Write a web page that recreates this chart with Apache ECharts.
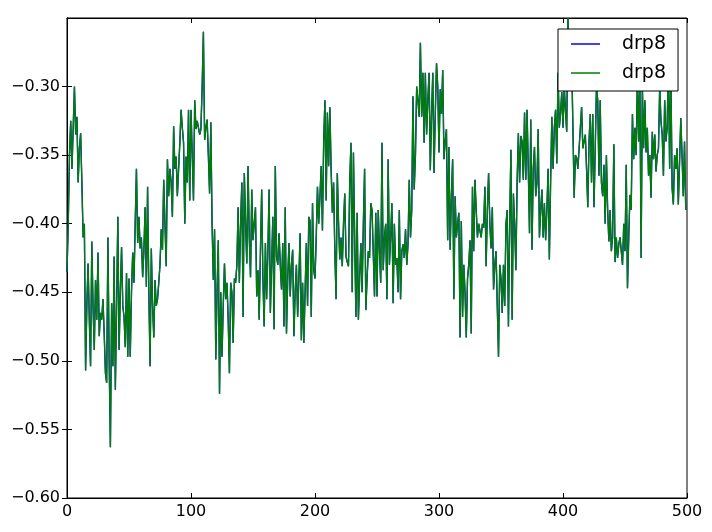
<!DOCTYPE html>
<html>
<head>
<meta charset="utf-8">
<script src="https://cdn.jsdelivr.net/npm/echarts@6/dist/echarts.min.js"></script>
<style>
html,body{margin:0;padding:0;background:#fff;}
#c{width:712px;height:532px;}
</style>
</head>
<body>
<div id="c"></div>
<script>
// Series values (index 0..499)
var drp8 = [
-0.435,-0.40,-0.35,-0.325,-0.36,-0.33,-0.300,-0.335,-0.322,-0.37,
-0.345,-0.334,-0.37,-0.41,-0.40,-0.507,-0.46,-0.429,-0.47,-0.504,
-0.413,-0.46,-0.492,-0.441,-0.47,-0.421,-0.482,-0.465,-0.47,-0.455,
-0.48,-0.509,-0.516,-0.41,-0.50,-0.563,-0.458,-0.504,-0.424,-0.521,
-0.46,-0.395,-0.492,-0.45,-0.417,-0.46,-0.468,-0.49,-0.436,-0.497,
-0.44,-0.497,-0.45,-0.421,-0.443,-0.40,-0.36,-0.414,-0.395,-0.418,
-0.41,-0.439,-0.42,-0.388,-0.446,-0.373,-0.45,-0.504,-0.418,-0.46,
-0.483,-0.441,-0.46,-0.455,-0.443,-0.43,-0.404,-0.419,-0.368,-0.40,
-0.431,-0.353,-0.38,-0.36,-0.37,-0.395,-0.329,-0.36,-0.351,-0.38,
-0.36,-0.341,-0.317,-0.33,-0.341,-0.40,-0.351,-0.37,-0.317,-0.383,
-0.317,-0.35,-0.383,-0.31,-0.331,-0.325,-0.33,-0.335,-0.331,-0.30,
-0.26,-0.339,-0.33,-0.324,-0.35,-0.378,-0.326,-0.40,-0.441,-0.404,
-0.499,-0.45,-0.412,-0.524,-0.45,-0.497,-0.46,-0.429,-0.455,-0.443,
-0.47,-0.509,-0.443,-0.45,-0.487,-0.44,-0.443,-0.43,-0.388,-0.443,
-0.40,-0.37,-0.468,-0.363,-0.40,-0.429,-0.358,-0.41,-0.439,-0.375,
-0.412,-0.40,-0.388,-0.453,-0.434,-0.47,-0.42,-0.375,-0.44,-0.475,
-0.414,-0.455,-0.42,-0.375,-0.465,-0.43,-0.395,-0.477,-0.358,-0.424,
-0.43,-0.407,-0.43,-0.448,-0.414,-0.475,-0.388,-0.48,-0.44,-0.414,
-0.453,-0.43,-0.419,-0.482,-0.45,-0.43,-0.468,-0.44,-0.407,-0.485,
-0.443,-0.487,-0.45,-0.414,-0.46,-0.395,-0.398,-0.468,-0.385,-0.434,
-0.44,-0.41,-0.373,-0.40,-0.38,-0.358,-0.405,-0.34,-0.31,-0.383,
-0.319,-0.358,-0.315,-0.36,-0.392,-0.37,-0.42,-0.455,-0.363,-0.40,
-0.426,-0.41,-0.431,-0.40,-0.378,-0.424,-0.428,-0.431,-0.37,-0.341,
-0.45,-0.348,-0.41,-0.468,-0.392,-0.47,-0.44,-0.414,-0.45,-0.40,
-0.36,-0.463,-0.44,-0.42,-0.425,-0.385,-0.39,-0.39,-0.453,-0.392,
-0.453,-0.39,-0.42,-0.443,-0.341,-0.434,-0.41,-0.40,-0.455,-0.353,
-0.43,-0.41,-0.385,-0.458,-0.40,-0.43,-0.425,-0.45,-0.39,-0.455,
-0.42,-0.415,-0.425,-0.404,-0.43,-0.415,-0.368,-0.41,-0.39,-0.307,
-0.375,-0.35,-0.30,-0.31,-0.322,-0.268,-0.322,-0.29,-0.341,-0.29,
-0.335,-0.31,-0.29,-0.361,-0.32,-0.29,-0.363,-0.32,-0.283,-0.30,
-0.348,-0.302,-0.32,-0.288,-0.353,-0.34,-0.331,-0.412,-0.344,-0.419,
-0.38,-0.353,-0.455,-0.38,-0.41,-0.40,-0.392,-0.483,-0.398,-0.468,
-0.43,-0.45,-0.483,-0.44,-0.43,-0.412,-0.48,-0.373,-0.42,-0.368,
-0.39,-0.41,-0.40,-0.40,-0.41,-0.40,-0.403,-0.373,-0.431,-0.39,
-0.363,-0.40,-0.418,-0.388,-0.448,-0.43,-0.42,-0.46,-0.497,-0.43,
-0.44,-0.465,-0.43,-0.46,-0.40,-0.39,-0.475,-0.40,-0.346,-0.47,
-0.378,-0.40,-0.434,-0.37,-0.334,-0.37,-0.336,-0.34,-0.368,-0.319,
-0.368,-0.317,-0.36,-0.407,-0.324,-0.419,-0.36,-0.344,-0.38,-0.37,
-0.331,-0.41,-0.39,-0.375,-0.41,-0.385,-0.412,-0.39,-0.36,-0.426,
-0.37,-0.322,-0.36,-0.33,-0.317,-0.356,-0.29,-0.33,-0.32,-0.304,
-0.33,-0.30,-0.318,-0.333,-0.25,-0.29,-0.30,-0.28,-0.33,-0.381,
-0.35,-0.352,-0.36,-0.345,-0.33,-0.315,-0.345,-0.34,-0.335,-0.36,
-0.388,-0.34,-0.32,-0.37,-0.32,-0.388,-0.345,-0.30,-0.31,-0.365,
-0.31,-0.37,-0.38,-0.357,-0.40,-0.35,-0.39,-0.413,-0.39,-0.42,
-0.41,-0.342,-0.428,-0.41,-0.425,-0.415,-0.41,-0.42,-0.43,-0.40,
-0.42,-0.357,-0.447,-0.41,-0.379,-0.39,-0.32,-0.353,-0.33,-0.35,
-0.29,-0.34,-0.295,-0.425,-0.30,-0.345,-0.31,-0.348,-0.33,-0.365,
-0.35,-0.381,-0.333,-0.353,-0.335,-0.362,-0.35,-0.345,-0.30,-0.325,
-0.335,-0.365,-0.31,-0.34,-0.33,-0.28,-0.36,-0.29,-0.374,-0.386,
-0.35,-0.36,-0.345,-0.386,-0.355,-0.323,-0.35,-0.38,-0.34,-0.39
];
var seriesNames = ['drp8', 'drp8'];
var xTicks = [0, 100, 200, 300, 400, 500];
var yTicks = [-0.60, -0.55, -0.50, -0.45, -0.40, -0.35, -0.30];

var pairs = drp8.map(function (v, i) { return [i, v]; });

function fmtY(v) {
  for (var k = 0; k < yTicks.length; k++) {
    if (Math.abs(v - yTicks[k]) < 1e-6) {
      return '\u2212' + Math.abs(yTicks[k]).toFixed(2);
    }
  }
  return '';
}
function fmtX(v) {
  for (var k = 0; k < xTicks.length; k++) {
    if (Math.abs(v - xTicks[k]) < 1e-6) return String(xTicks[k]);
  }
  return '';
}

var font = 'DejaVu Sans';
function ticks(vals) {
  return { show: true, inside: true, length: 5, customValues: vals, lineStyle: { color: '#000', width: 1 } };
}
var axLine = { show: true, lineStyle: { color: '#000', width: 1 } };

var chart = echarts.init(document.getElementById('c'), null, { renderer: 'canvas' });
chart.setOption({
  animation: false,
  backgroundColor: '#fff',
  grid: { left: 67, top: 18, width: 620, height: 480, show: true, borderColor: '#000', borderWidth: 1, backgroundColor: 'transparent' },
  legend: {
    show: true,
    orient: 'vertical',
    left: 558, top: 29,
    padding: [4, 12, 7, 13],
    itemGap: 7,
    itemWidth: 29,
    itemHeight: 1.5,
    icon: 'rect',
    backgroundColor: '#fff',
    borderColor: '#000',
    borderWidth: 1,
    borderRadius: 0,
    textStyle: { fontFamily: font, fontSize: 19, color: '#000', lineHeight: 22, padding: [0, 0, 0, 17] },
    data: [
      { name: 'drp8a', icon: 'rect', itemStyle: { color: '#0000ff' } },
      { name: 'drp8b', icon: 'rect', itemStyle: { color: '#008000' } }
    ],
    formatter: function (n) { return n === 'drp8a' ? seriesNames[0] : seriesNames[1]; },
    selectedMode: false
  },
  xAxis: [
    { type: 'value', min: 0, max: 500, interval: 100, position: 'bottom',
      axisLine: axLine, axisTick: ticks(xTicks), splitLine: { show: false },
      axisLabel: { show: true, margin: 6, color: '#000', fontFamily: font, fontSize: 16, formatter: fmtX, customValues: xTicks } },
    { type: 'value', min: 0, max: 500, interval: 100, position: 'top',
      axisLine: axLine, axisTick: ticks(xTicks), splitLine: { show: false }, axisLabel: { show: false } }
  ],
  yAxis: [
    { type: 'value', min: -0.60, max: -0.25, interval: 0.05, position: 'left',
      axisLine: axLine, axisTick: ticks(yTicks), splitLine: { show: false },
      axisLabel: { show: true, margin: 7, color: '#000', fontFamily: font, fontSize: 16, formatter: fmtY, customValues: yTicks } },
    { type: 'value', min: -0.60, max: -0.25, interval: 0.05, position: 'right',
      axisLine: axLine, axisTick: ticks(yTicks), splitLine: { show: false }, axisLabel: { show: false } }
  ],
  series: [
    { name: 'drp8a', type: 'line', data: pairs, showSymbol: false, symbol: 'none', clip: true,
      lineStyle: { color: '#0000ff', width: 1.4 }, itemStyle: { color: '#0000ff' }, z: 2 },
    { name: 'drp8b', type: 'line', data: pairs, showSymbol: false, symbol: 'none', clip: true,
      lineStyle: { color: '#008000', width: 1.3 }, itemStyle: { color: '#008000' }, z: 3 }
  ]
});
</script>
</body>
</html>
